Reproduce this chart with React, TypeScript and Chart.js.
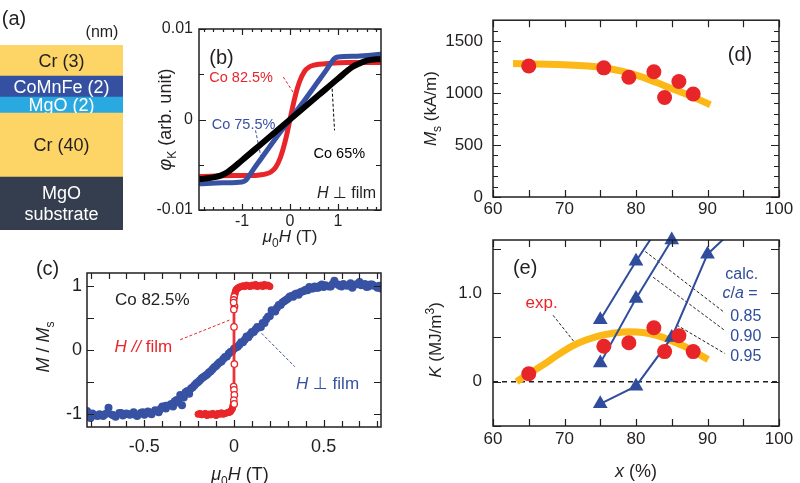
import React, { useEffect, useRef } from 'react';
import { Chart, registerables } from 'chart.js';
Chart.register(...registerables);

const FONT = '"Liberation Sans", Arial, "DejaVu Sans", sans-serif';
const INK = '#231f20';
const RED = '#e8262a';
const BLUE = '#3852a3';
const BLUE_E = '#2f4d9c';
const ORANGE = '#fbb817';

// ---------- (a) layer stack (bottom to top) ----------
const layerNames = [['MgO', 'substrate'], ['Cr (40)'], ['MgO (2)'], ['CoMnFe (2)'], ['Cr (3)']];
const layerDrawHeights = [53, 64, 16, 21, 31];
const layerColors = ['#353e4e', '#fdd567', '#2aa9e0', '#3550a1', '#fdd567'];
const layerTextColors = ['#ffffff', INK, '#ffffff', '#ffffff', INK];

// ---------- (b) Kerr loops ----------
const bH825 = [-1.9, -1.2, -0.8, -0.6, -0.5, -0.4, -0.3, -0.2, -0.1, 0, 0.1, 0.2, 0.3, 0.4, 0.5, 0.6, 0.8, 1.2, 1.9];
const bPhi825 = [-0.0063, -0.0062, -0.0062, -0.0061, -0.006, -0.0058, -0.0053, -0.0042, -0.0024, 0, 0.0024, 0.0042, 0.0053, 0.0058, 0.006, 0.0061, 0.0062, 0.0063, 0.0063];
const bH755 = [-1.9, -1.4, -1.0, -0.92, -0.85, -0.75, -0.6, -0.3, 0, 0.3, 0.6, 0.75, 0.85, 0.92, 1.0, 1.4, 1.9];
const bPhi755 = [-0.0071, -0.007, -0.0069, -0.0067, -0.0062, -0.0054, -0.0043, -0.0021, 0, 0.0021, 0.0043, 0.0054, 0.0062, 0.0067, 0.0069, 0.007, 0.0072];
const bH65 = [-1.9, -1.6, -1.45, -1.3, -1.0, -0.6, 0, 0.6, 1.0, 1.3, 1.45, 1.6, 1.9];
const bPhi65 = [-0.0066, -0.0064, -0.0062, -0.0058, -0.0045, -0.0027, 0, 0.0027, 0.0045, 0.0058, 0.0062, 0.0065, 0.0067];
const bLeadRedX = [-0.14, 0.09];
const bLeadRedY = [0.0047, 0.0028];
const bLeadBlueX = [-0.72, -0.6];
const bLeadBlueY = [-0.0012, -0.0043];
const bLeadBlackX = [0.88, 0.93];
const bLeadBlackY = [0.0034, -0.0012];
const bXTicks = [-1, 0, 1];
const bXLabels = ['-1', '0', '1'];
const bXMinor = [-1.8, -1.6, -1.4, -1.2, -0.8, -0.6, -0.4, -0.2, 0.2, 0.4, 0.6, 0.8, 1.2, 1.4, 1.6, 1.8];
const bYTicks = [-0.01, 0, 0.01];
const bYLabels = ['-0.01', '0', '0.01'];
const bYMinor = [-0.005, 0.005];

// ---------- (c) M/Ms loops ----------
const cPerpH = [-0.82, -0.80, -0.79, -0.77, -0.75, -0.73, -0.71, -0.70, -0.68, -0.66, -0.64, -0.62, -0.60, -0.58, -0.56, -0.54, -0.52, -0.50, -0.48, -0.46, -0.44, -0.42, -0.40, -0.38, -0.36, -0.34, -0.33, -0.31, -0.30, -0.29, -0.28, -0.27, -0.25, -0.24, -0.22, -0.21, -0.19, -0.18, -0.16, -0.15, -0.13, -0.12, -0.10, -0.09, -0.07, -0.06, -0.04, -0.03, -0.01, 0.00, 0.02, 0.03, 0.05, 0.06, 0.08, 0.09, 0.11, 0.12, 0.14, 0.15, 0.17, 0.18, 0.20, 0.21, 0.23, 0.24, 0.26, 0.27, 0.29, 0.30, 0.32, 0.33, 0.35, 0.36, 0.38, 0.39, 0.41, 0.42, 0.44, 0.45, 0.47, 0.48, 0.50, 0.51, 0.53, 0.55, 0.56, 0.58, 0.60, 0.61, 0.63, 0.65, 0.66, 0.68, 0.70, 0.71, 0.73, 0.75, 0.76, 0.78, 0.80, 0.82];
const cPerpM = [-0.95, -1.06, -0.99, -1.02, -1.00, -1.03, -0.99, -0.90, -1.01, -1.04, -0.98, -1.02, -0.99, -1.01, -0.97, -1.03, -0.98, -1.01, -0.96, -1.00, -0.95, -0.97, -0.88, -0.91, -0.86, -0.88, -0.80, -0.82, -0.70, -0.86, -0.74, -0.66, -0.68, -0.60, -0.55, -0.52, -0.47, -0.44, -0.40, -0.38, -0.33, -0.30, -0.25, -0.22, -0.18, -0.14, -0.10, -0.06, -0.02, 0.02, 0.05, 0.08, 0.12, 0.16, 0.20, 0.24, 0.28, 0.32, 0.35, 0.36, 0.42, 0.48, 0.53, 0.62, 0.60, 0.66, 0.70, 0.74, 0.78, 0.80, 0.84, 0.83, 0.88, 0.86, 0.91, 0.92, 0.93, 0.98, 0.96, 0.99, 0.97, 1.00, 0.98, 1.01, 0.99, 1.03, 1.08, 1.02, 0.99, 1.03, 1.00, 1.04, 0.97, 1.02, 1.06, 1.01, 1.03, 0.99, 1.02, 1.00, 0.97, 0.96];
const cPerpRetH = [0.81, 0.77, 0.74, 0.69, 0.64, 0.59, 0.54, 0.49, 0.46, 0.43, 0.40, 0.37, 0.34, 0.31, 0.28, 0.25, 0.22, 0.19, 0.16, 0.13, 0.10, 0.07, 0.04, 0.01, -0.02, -0.05, -0.08, -0.11, -0.14, -0.17, -0.20, -0.23, -0.26, -0.29, -0.32, -0.35, -0.38, -0.41, -0.44, -0.47, -0.51, -0.55, -0.59, -0.63, -0.67, -0.72, -0.76, -0.81];
const cPerpRetM = [1.00, 1.02, 0.98, 1.03, 1.01, 1.00, 0.99, 1.02, 0.97, 0.96, 0.94, 0.90, 0.87, 0.83, 0.76, 0.70, 0.61, 0.52, 0.42, 0.36, 0.28, 0.21, 0.12, 0.04, -0.03, -0.11, -0.19, -0.27, -0.35, -0.42, -0.50, -0.58, -0.64, -0.72, -0.78, -0.84, -0.87, -0.92, -0.94, -0.98, -0.97, -1.01, -1.00, -0.98, -1.02, -1.00, -1.03, -0.99];
const cParUpH = [0.20, 0.19, 0.18, 0.17, 0.16, 0.15, 0.14, 0.13, 0.12, 0.11, 0.10, 0.09, 0.08, 0.07, 0.06, 0.05, 0.04, 0.03, 0.025, 0.02, 0.015, 0.01, 0.007, 0.005, 0.003];
const cParUpM = [0.99, 1.01, 1.00, 1.02, 0.99, 1.01, 1.00, 0.99, 1.02, 1.00, 1.01, 0.99, 1.00, 1.01, 0.99, 1.00, 0.99, 0.98, 0.97, 0.96, 0.95, 0.93, 0.90, 0.87, 0.85];
const cParLoH = [-0.20, -0.19, -0.18, -0.17, -0.16, -0.15, -0.14, -0.13, -0.12, -0.11, -0.10, -0.09, -0.08, -0.07, -0.06, -0.05, -0.04, -0.03, -0.025, -0.02, -0.015, -0.01, -0.007, -0.005, -0.003];
const cParLoM = [-1.00, -0.99, -1.01, -1.00, -0.99, -1.02, -1.00, -1.01, -0.99, -1.00, -1.02, -0.99, -1.00, -0.98, -1.00, -0.99, -0.98, -0.97, -0.97, -0.96, -0.94, -0.92, -0.89, -0.86, -0.84];
const cParOpenH = [0.001, -0.002, 0.003, -0.001, 0.0, 0.002, -0.002, 0.0, 0.002, -0.001, 0.001, -0.002];
const cParOpenM = [0.83, 0.78, 0.68, 0.63, 0.36, -0.22, -0.57, -0.62, -0.70, -0.78, -0.84, 0.74];
const cParLineH = [0.2, 0.05, 0.015, 0.0, -0.004, -0.004, -0.008, -0.02, -0.05, -0.2, -0.2, -0.05, -0.015, 0.0, 0.004, 0.004, 0.008, 0.02, 0.05, 0.2];
const cParLineM = [1.0, 0.99, 0.95, 0.85, 0.6, -0.6, -0.85, -0.95, -0.98, -1.0, -1.0, -0.99, -0.95, -0.85, -0.6, 0.6, 0.85, 0.95, 0.98, 1.0];
const cLeadRedX = [-0.3, -0.022];
const cLeadRedY = [0.16, 0.47];
const cLeadBlueX = [0.154, 0.339];
const cLeadBlueY = [0.26, -0.26];
const cXTicks = [-0.5, 0, 0.5];
const cXLabels = ['-0.5', '0', '0.5'];
const cXMinor = [-0.8, -0.7, -0.6, -0.4, -0.3, -0.2, -0.1, 0.1, 0.2, 0.3, 0.4, 0.6, 0.7, 0.8];
const cYTicks = [-1, 0, 1];
const cYLabels = ['-1', '0', '1'];
const cYMinor = [-0.5, 0.5];

// ---------- (d) Ms vs x ----------
const dX = [65, 75.5, 79, 82.5, 84, 86, 88];
const dMs = [1260, 1242, 1152, 1205, 957, 1110, 990];
const dFitX = [62.8, 66, 69, 72, 75, 78, 81, 84, 87, 90.4];
const dFitMs = [1283, 1280, 1274, 1264, 1248, 1210, 1150, 1070, 990, 887];
const dXTicks = [60, 70, 80, 90, 100];
const dXLabels = ['60', '70', '80', '90', '100'];
const dXMinor = [65, 75, 85, 95];
const dYTicks = [0, 500, 1000, 1500];
const dYLabels = ['0', '500', '1000', '1500'];
const dYMinor = [100, 200, 300, 400, 600, 700, 800, 900, 1100, 1200, 1300, 1400, 1600];

// ---------- (e) K vs x ----------
const eX = [65, 75.5, 79, 82.5, 84, 86, 88];
const eK = [0.09, 0.40, 0.44, 0.61, 0.34, 0.52, 0.34];
const eFitX = [63.3, 65, 67, 69, 71, 73, 75, 77, 79, 81, 83, 85, 87, 89, 90.1];
const eFitK = [0.0, 0.09, 0.19, 0.30, 0.40, 0.47, 0.52, 0.55, 0.565, 0.555, 0.52, 0.46, 0.39, 0.30, 0.25];
const calc085X = [75, 80, 85];
const calc085K = [0.70, 1.36, 1.97];
const calc090X = [75, 80, 85];
const calc090K = [0.21, 0.94, 1.60];
const calc095X = [75, 80, 85, 90, 95];
const calc095K = [-0.25, -0.05, 0.50, 1.44, 1.82];
const eZeroX = [60, 100];
const eZeroK = [0, 0];
const eLead085X = [81.3, 92.4];
const eLead085K = [1.47, 0.78];
const eLead090X = [82.4, 92.4];
const eLead090K = [1.18, 0.58];
const eLead095X = [85.7, 92.4];
const eLead095K = [0.64, 0.32];
const eLeadExpX = [68.4, 71.7];
const eLeadExpK = [0.75, 0.415];
const eXTicks = [60, 70, 80, 90, 100];
const eXLabels = ['60', '70', '80', '90', '100'];
const eXMinor = [65, 75, 85, 95];
const eYTicks = [0, 1.0];
const eYLabels = ['0', '1.0'];
const eYMinor = [-0.5, 0.5, 1.5];
const E_YMAX = 1.6;

// ---------- helpers ----------
type Seg = { t: string; i?: boolean; sub?: boolean; sup?: boolean };

const pts = (xs: number[], ys: number[]) => xs.map((x, i) => ({ x, y: ys[i] }));

function richText(ctx: CanvasRenderingContext2D, segs: Seg[], x: number, y: number, size: number, color: string, rot = 0) {
  ctx.save();
  ctx.translate(x, y);
  if (rot) ctx.rotate(rot);
  const f = (s: Seg) => `${s.i ? 'italic ' : ''}${s.sub || s.sup ? Math.round(size * 0.68) : size}px ${FONT}`;
  const ws = segs.map((s) => {
    ctx.font = f(s);
    return ctx.measureText(s.t).width;
  });
  let cx = -ws.reduce((a, b) => a + b, 0) / 2;
  ctx.fillStyle = color;
  ctx.textBaseline = 'alphabetic';
  ctx.textAlign = 'left';
  const base = size * 0.36;
  segs.forEach((s, k) => {
    ctx.font = f(s);
    const dy = s.sub ? size * 0.26 : s.sup ? -size * 0.42 : 0;
    ctx.fillText(s.t, cx, base + dy);
    cx += ws[k];
  });
  ctx.restore();
}

function lineDs(xs: number[], ys: number[], color: string, width: number, extra: any = {}) {
  return { data: pts(xs, ys), showLine: true, borderColor: color, backgroundColor: color, borderWidth: width, pointRadius: 0, fill: false, ...extra };
}
function leader(xs: number[], ys: number[], color: string, order: number) {
  return lineDs(xs, ys, color, 1, { borderDash: [3, 2], order });
}

function axis(min: number, max: number, ticks: number[], labels: string[], size: number, pad: number, fixed: number, isX: boolean) {
  return {
    type: 'linear',
    position: isX ? 'bottom' : 'left',
    min,
    max,
    grid: { display: false, drawTicks: false, tickLength: 0 },
    border: { display: false },
    afterBuildTicks: (s: any) => {
      s.ticks = ticks.map((v) => ({ value: v }));
    },
    afterFit: (s: any) => {
      if (isX) s.height = fixed;
      else s.width = fixed;
    },
    ticks: {
      callback: (_v: any, i: number) => labels[i],
      font: { family: FONT, size },
      color: INK,
      padding: pad,
      maxRotation: 0,
      minRotation: 0,
      autoSkip: false,
    },
  };
}

function framePlugin(xMaj: number[], xMin: number[], yMaj: number[], yMin: number[], xL: number[], yL: number[]) {
  return {
    id: 'frame',
    afterDatasetsDraw(chart: any) {
      const { ctx, chartArea: a, scales } = chart;
      const x = scales.x;
      const y = scales.y;
      ctx.save();
      ctx.strokeStyle = INK;
      ctx.lineWidth = 1.2;
      ctx.beginPath();
      const vx = (vals: number[], len: number) =>
        vals.forEach((v) => {
          const p = Math.round(x.getPixelForValue(v)) + 0.5;
          ctx.moveTo(p, a.bottom);
          ctx.lineTo(p, a.bottom - len);
          ctx.moveTo(p, a.top);
          ctx.lineTo(p, a.top + len);
        });
      const vy = (vals: number[], len: number) =>
        vals.forEach((v) => {
          const p = Math.round(y.getPixelForValue(v)) + 0.5;
          ctx.moveTo(a.left, p);
          ctx.lineTo(a.left + len, p);
          ctx.moveTo(a.right, p);
          ctx.lineTo(a.right - len, p);
        });
      vx(xMaj, xL[0]);
      vx(xMin, xL[1]);
      vy(yMaj, yL[0]);
      vy(yMin, yL[1]);
      ctx.stroke();
      ctx.lineWidth = 1.5;
      ctx.strokeRect(a.left, a.top, a.right - a.left, a.bottom - a.top);
      ctx.restore();
    },
  };
}

const overlay = (draw: (chart: any) => void) => ({ id: 'overlay', afterDraw: draw });

const baseOptions = (padding: any) => ({
  responsive: false,
  animation: false,
  devicePixelRatio: 1,
  events: [],
  layout: { padding },
  plugins: { legend: { display: false }, tooltip: { enabled: false } },
});

const at = (chart: any, x: number, y: number) => [chart.scales.x.getPixelForValue(x), chart.scales.y.getPixelForValue(y)];

// ---------- chart configs ----------
function configA() {
  const total = layerDrawHeights.reduce((s, v) => s + v, 0);
  return {
    type: 'bar',
    data: {
      labels: ['stack'],
      datasets: layerDrawHeights.map((h, i) => ({
        data: [h],
        backgroundColor: layerColors[i],
        borderWidth: 0,
        barPercentage: 1,
        categoryPercentage: 1,
      })),
    },
    options: {
      ...baseOptions({ left: 0, right: 677, top: 45, bottom: 253 }),
      scales: {
        x: { display: false, stacked: true },
        y: { display: false, stacked: true, min: 0, max: total },
      },
    },
    plugins: [
      overlay((chart: any) => {
        const ctx = chart.ctx;
        const a = chart.chartArea;
        layerNames.forEach((lines, i) => {
          const el = chart.getDatasetMeta(i).data[0];
          const top = Math.min(el.y, el.base);
          const bot = Math.max(el.y, el.base);
          ctx.save();
          ctx.beginPath();
          ctx.rect(a.left, top, a.right - a.left, bot - top);
          ctx.clip();
          const cy = (top + bot) / 2;
          const lh = 21;
          lines.forEach((t, k) => {
            richText(ctx, [{ t }], el.x, cy + (k - (lines.length - 1) / 2) * lh, 18, layerTextColors[i]);
          });
          ctx.restore();
        });
        richText(ctx, [{ t: '(a)' }], a.left + 14, a.top - 27, 20, INK);
        richText(ctx, [{ t: '(nm)' }], a.left + 102, a.top - 14, 16, INK);
      }),
    ],
  };
}

function configB() {
  return {
    type: 'scatter',
    data: {
      datasets: [
        lineDs(bH65, bPhi65, '#000000', 6, { order: 0, cubicInterpolationMode: 'monotone' }),
        lineDs(bH755, bPhi755, BLUE, 5, { order: 1, cubicInterpolationMode: 'monotone' }),
        lineDs(bH825, bPhi825, RED, 5, { order: 2, cubicInterpolationMode: 'monotone' }),
        leader(bLeadRedX, bLeadRedY, RED, 3),
        leader(bLeadBlueX, bLeadBlueY, BLUE, 3),
        leader(bLeadBlackX, bLeadBlackY, '#000000', 3),
      ],
    },
    options: {
      ...baseOptions({ left: 129, right: 419, top: 29, bottom: 228 }),
      scales: {
        x: axis(-1.9, 1.9, bXTicks, bXLabels, 16, 2, 45, true),
        y: axis(-0.01, 0.01, bYTicks, bYLabels, 16, 6, 70, false),
      },
    },
    plugins: [
      framePlugin(bXTicks, bXMinor, bYTicks, bYMinor, [6, 3], [7, 5]),
      overlay((chart: any) => {
        const ctx = chart.ctx;
        const a = chart.chartArea;
        let p = at(chart, -1.43, 0.0069);
        richText(ctx, [{ t: '(b)' }], p[0], p[1], 20, INK);
        p = at(chart, -1.02, 0.0047);
        richText(ctx, [{ t: 'Co 82.5%' }], p[0], p[1], 14.5, RED);
        p = at(chart, -0.97, -0.00044);
        richText(ctx, [{ t: 'Co 75.5%' }], p[0], p[1], 14.5, BLUE);
        p = at(chart, 1.03, -0.0037);
        richText(ctx, [{ t: 'Co 65%' }], p[0], p[1], 14.5, '#000000');
        p = at(chart, 1.18, -0.008);
        richText(ctx, [{ t: 'H', i: true }, { t: ' ⊥ film' }], p[0], p[1], 16, INK);
        richText(ctx, [{ t: 'φ', i: true }, { t: 'K', sub: true }, { t: ' (arb. unit)' }], a.left - 34, (a.top + a.bottom) / 2, 18, INK, -Math.PI / 2);
        richText(ctx, [{ t: 'μ', i: true }, { t: '0', sub: true }, { t: 'H', i: true }, { t: ' (T)' }], (a.left + a.right) / 2, a.bottom + 26, 17, INK);
      }),
    ],
  };
}

function configC() {
  return {
    type: 'scatter',
    data: {
      datasets: [
        { data: pts(cParOpenH, cParOpenM), showLine: false, pointRadius: 3.2, pointBackgroundColor: '#ffffff', pointBorderColor: RED, pointBorderWidth: 1.3, order: 0 },
        { data: pts([...cParUpH, ...cParLoH], [...cParUpM, ...cParLoM]), showLine: false, pointRadius: 3.2, pointBackgroundColor: RED, pointBorderColor: RED, pointBorderWidth: 1, order: 1 },
        lineDs(cParLineH, cParLineM, RED, 1.3, { order: 2 }),
        { data: pts([...cPerpH, ...cPerpRetH], [...cPerpM, ...cPerpRetM]), showLine: false, pointRadius: 4, pointBackgroundColor: BLUE, pointBorderWidth: 0, order: 3 },
        leader(cLeadRedX, cLeadRedY, RED, 4),
        leader(cLeadBlueX, cLeadBlueY, BLUE, 4),
      ],
    },
    options: {
      ...baseOptions({ left: 37, right: 419, top: 273, bottom: 11 }),
      scales: {
        x: axis(-0.82, 0.82, cXTicks, cXLabels, 18, 9, 45, true),
        y: axis(-1.2, 1.2, cYTicks, cYLabels, 18, 5, 50, false),
      },
    },
    plugins: [
      framePlugin(cXTicks, cXMinor, cYTicks, cYMinor, [7, 6], [7, 7]),
      overlay((chart: any) => {
        const ctx = chart.ctx;
        const a = chart.chartArea;
        let p = at(chart, -1.04, 1.28);
        richText(ctx, [{ t: '(c)' }], p[0], p[1], 20, INK);
        p = at(chart, -0.456, 0.8);
        richText(ctx, [{ t: 'Co 82.5%' }], p[0], p[1], 17, INK);
        p = at(chart, -0.506, 0.0625);
        richText(ctx, [{ t: 'H //', i: true }, { t: ' film' }], p[0], p[1], 17, RED);
        p = at(chart, 0.522, -0.516);
        richText(ctx, [{ t: 'H', i: true }, { t: ' ⊥ film' }], p[0], p[1], 17, BLUE);
        richText(ctx, [{ t: 'M', i: true }, { t: ' / ' }, { t: 'M', i: true }, { t: 's', sub: true }], a.left - 44, (a.top + a.bottom) / 2 - 3, 18, INK, -Math.PI / 2);
        richText(ctx, [{ t: 'μ', i: true }, { t: '0', sub: true }, { t: 'H', i: true }, { t: ' (T)' }], (a.left + a.right) / 2 + 6, a.bottom + 47, 18, INK);
      }),
    ],
  };
}

function configD() {
  return {
    type: 'scatter',
    data: {
      datasets: [
        { data: pts(dX, dMs), showLine: false, pointRadius: 7.5, pointBackgroundColor: RED, pointBorderWidth: 0, order: 0 },
        lineDs(dFitX, dFitMs, ORANGE, 7, { order: 1, cubicInterpolationMode: 'monotone' }),
      ],
    },
    options: {
      ...baseOptions({ left: 413, right: 21, top: 10, bottom: 246 }),
      scales: {
        x: axis(60, 100, dXTicks, dXLabels, 17, 2, 40, true),
        y: axis(0, 1700, dYTicks, dYLabels, 17, 10, 80, false),
      },
    },
    plugins: [
      framePlugin(dXTicks, dXMinor, dYTicks, dYMinor, [7, 7], [8, 5]),
      overlay((chart: any) => {
        const ctx = chart.ctx;
        const a = chart.chartArea;
        const p = at(chart, 94.55, 1373);
        richText(ctx, [{ t: '(d)' }], p[0], p[1], 20, INK);
        richText(ctx, [{ t: 'M', i: true }, { t: 's', sub: true }, { t: ' (kA/m)' }], a.left - 63, (a.top + a.bottom) / 2, 17, INK, -Math.PI / 2);
      }),
    ],
  };
}

function configE() {
  const inRange = (xs: number[], ys: number[]) => pts(xs, ys).filter((q) => q.y <= E_YMAX + 1e-9);
  const tri = (xs: number[], ys: number[]) => ({
    data: inRange(xs, ys),
    showLine: false,
    pointStyle: 'triangle',
    pointRadius: 8.5,
    pointBackgroundColor: BLUE_E,
    pointBorderColor: BLUE_E,
    pointBorderWidth: 0,
    clip: false,
    order: 1,
  });
  return {
    type: 'scatter',
    data: {
      datasets: [
        { data: pts(eX, eK), showLine: false, pointRadius: 7.5, pointBackgroundColor: RED, pointBorderWidth: 0, order: 0 },
        tri(calc085X, calc085K),
        tri(calc090X, calc090K),
        tri(calc095X, calc095K),
        lineDs(calc085X, calc085K, BLUE_E, 2, { order: 2 }),
        lineDs(calc090X, calc090K, BLUE_E, 2, { order: 2 }),
        lineDs(calc095X, calc095K, BLUE_E, 2, { order: 2 }),
        lineDs(eFitX, eFitK, ORANGE, 7, { order: 3, cubicInterpolationMode: 'monotone' }),
        lineDs(eZeroX, eZeroK, INK, 1.5, { order: 4, borderDash: [5, 4] }),
        leader(eLead085X, eLead085K, INK, 5),
        leader(eLead090X, eLead090K, INK, 5),
        leader(eLead095X, eLead095K, INK, 5),
        leader(eLeadExpX, eLeadExpK, INK, 5),
      ],
    },
    options: {
      ...baseOptions({ left: 413, right: 21, top: 240, bottom: 12 }),
      scales: {
        x: axis(60, 100, eXTicks, eXLabels, 17, 3, 45, true),
        y: axis(-0.5, E_YMAX, eYTicks, eYLabels, 17, 11, 80, false),
      },
    },
    plugins: [
      framePlugin(eXTicks, eXMinor, eYTicks, eYMinor, [7, 7], [8, 8]),
      overlay((chart: any) => {
        const ctx = chart.ctx;
        const a = chart.chartArea;
        let p = at(chart, 64.5, 1.3);
        richText(ctx, [{ t: '(e)' }], p[0], p[1], 20, INK);
        p = at(chart, 66.8, 0.9);
        richText(ctx, [{ t: 'exp.' }], p[0], p[1], 17, RED);
        p = at(chart, 94.78, 1.22);
        richText(ctx, [{ t: 'calc.' }], p[0], p[1], 16, BLUE_E);
        p = at(chart, 94.55, 1.015);
        richText(ctx, [{ t: 'c', i: true }, { t: '/' }, { t: 'a', i: true }, { t: ' =' }], p[0], p[1], 16, BLUE_E);
        p = at(chart, 95.35, 0.753);
        richText(ctx, [{ t: '0.85' }], p[0], p[1], 16, BLUE_E);
        p = at(chart, 95.35, 0.528);
        richText(ctx, [{ t: '0.90' }], p[0], p[1], 16, BLUE_E);
        p = at(chart, 95.35, 0.3);
        richText(ctx, [{ t: '0.95' }], p[0], p[1], 16, BLUE_E);
        richText(ctx, [{ t: 'K', i: true }, { t: ' (MJ/m' }, { t: '3', sup: true }, { t: ')' }], a.left - 58, (a.top + a.bottom) / 2 + 7, 17, INK, -Math.PI / 2);
        richText(ctx, [{ t: 'x', i: true }, { t: ' (%)' }], (a.left + a.right) / 2, a.bottom + 45, 18, INK);
      }),
    ],
  };
}

function ChartLayer({ make }: { make: () => any }) {
  const ref = useRef<HTMLCanvasElement>(null);
  useEffect(() => {
    const chart = new Chart(ref.current as HTMLCanvasElement, make());
    return () => chart.destroy();
  }, []);
  return <canvas ref={ref} width={800} height={483} style={{ position: 'absolute', left: 0, top: 0, width: 800, height: 483 }} />;
}

export default function App() {
  useEffect(() => {
    document.body.style.margin = '0';
  }, []);
  return (
    <div style={{ position: 'fixed', left: 0, top: 0, width: 800, height: 483, background: '#ffffff', overflow: 'hidden' }}>
      <ChartLayer make={configA} />
      <ChartLayer make={configB} />
      <ChartLayer make={configC} />
      <ChartLayer make={configD} />
      <ChartLayer make={configE} />
    </div>
  );
}
